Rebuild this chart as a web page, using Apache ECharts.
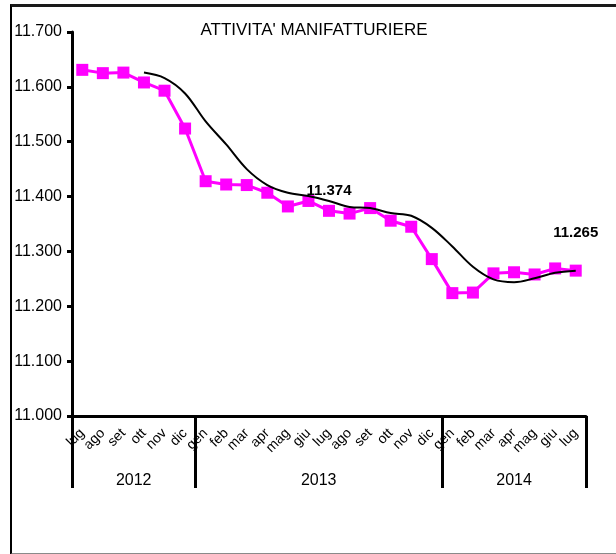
<!DOCTYPE html>
<html>
<head>
<meta charset="utf-8">
<script src="https://cdn.jsdelivr.net/npm/echarts@6/dist/echarts.min.js"></script>
<style>
  html, body { margin: 0; padding: 0; background: #fff; }
  #chart { position: absolute; left: 0; top: 0; width: 616px; height: 554px; }
  #frame { position: absolute; left: 10px; top: 4px; width: 640px; height: 546px;
           border-left: 2px solid #000; border-top: 3px solid #1a1a1a; border-bottom: 2px solid #8a8a8a;
           pointer-events: none; }
</style>
</head>
<body>
<div id="chart"></div>
<div id="frame"></div>
<script>
// ---- data ----
const title = "ATTIVITA' MANIFATTURIERE";
const months = ['lug','ago','set','ott','nov','dic',
                'gen','feb','mar','apr','mag','giu','lug','ago','set','ott','nov','dic',
                'gen','feb','mar','apr','mag','giu','lug'];
const years = ['2012', '2013', '2014'];
const yearStartIdx = [0, 6, 18];
const monthly = [11.631, 11.625, 11.626, 11.608, 11.593, 11.524,
                 11.428, 11.422, 11.421, 11.407, 11.382, 11.392, 11.374, 11.369, 11.379, 11.356, 11.345, 11.286,
                 11.224, 11.225, 11.260, 11.262, 11.258, 11.269, 11.265];
const movingAvg = [null, null, null, 11.626, 11.616, 11.588,
                   11.537, 11.495, 11.450, 11.421, 11.407, 11.401, 11.392, 11.381, 11.379, 11.370, 11.365, 11.343,
                   11.309, 11.272, 11.249, 11.244, 11.251, 11.261, 11.265];
const labelledIdx = [12, 24];
const yMin = 11.0, yMax = 11.7, yStep = 0.1;

// ---- derived ----
const n = months.length;
const yearBounds = yearStartIdx.concat([n]);
const yearCenters = yearStartIdx.map((s, i) => (s + yearBounds[i + 1]) / 2);
const labelDist = { 12: 6.5, 24: 24 };
const monthlyData = monthly.map((v, i) => {
  if (labelledIdx.indexOf(i) >= 0) {
    return { value: v, label: { show: true, position: 'top', distance: labelDist[i],
      formatter: p => p.value.toFixed(3), fontSize: 15, fontWeight: 'bold', color: '#000',
      fontFamily: 'Liberation Sans, Arial, sans-serif' } };
  }
  return v;
});

const FONT = 'Liberation Sans, Arial, sans-serif';
const chart = echarts.init(document.getElementById('chart'), null, { renderer: 'canvas' });
chart.setOption({
  backgroundColor: '#fff',
  animation: false,
  title: {
    text: title, left: 314, top: 22, textAlign: 'center', padding: 0,
    textStyle: { fontFamily: FONT, fontSize: 17, fontWeight: 'normal', color: '#000' }
  },
  grid: { left: 72, top: 32, width: 514, height: 384 },
  xAxis: [
    {
      type: 'category', data: months, boundaryGap: true, position: 'bottom',
      axisLine: { show: true, lineStyle: { color: '#000', width: 3 } },
      axisTick: { show: false },
      axisLabel: { interval: 0, rotate: 45, margin: 15, fontFamily: FONT, fontSize: 14, color: '#000' },
      splitLine: { show: false }
    },
    {
      type: 'value', min: 0, max: n, position: 'bottom',
      axisLine: { show: false },
      axisTick: { show: true, customValues: yearBounds, length: 72, lineStyle: { color: '#000', width: 3 } },
      axisLabel: { show: true, customValues: yearCenters, margin: 57, fontFamily: FONT, fontSize: 16, color: '#000',
        formatter: v => { const k = yearCenters.findIndex(c => Math.abs(c - v) < 1e-6); return k >= 0 ? years[k] : ''; } },
      splitLine: { show: false }
    }
  ],
  yAxis: {
    type: 'value', min: yMin, max: yMax, interval: yStep,
    axisLine: { show: true, lineStyle: { color: '#000', width: 3 } },
    axisTick: { show: true, length: 5, lineStyle: { color: '#000', width: 3 } },
    axisLabel: { margin: 10, fontFamily: FONT, fontSize: 16, color: '#000', formatter: v => v.toFixed(3) },
    splitLine: { show: false }
  },
  series: [
    {
      type: 'line', xAxisIndex: 0, data: monthlyData,
      symbol: 'rect', symbolSize: 12,
      itemStyle: { color: '#ff00ff' },
      lineStyle: { color: '#ff00ff', width: 3 },
      z: 2
    },
    {
      type: 'line', xAxisIndex: 0, data: movingAvg, smooth: 0.35,
      showSymbol: false, symbol: 'none',
      lineStyle: { color: '#000', width: 2 },
      z: 3
    }
  ]
});
</script>
</body>
</html>
